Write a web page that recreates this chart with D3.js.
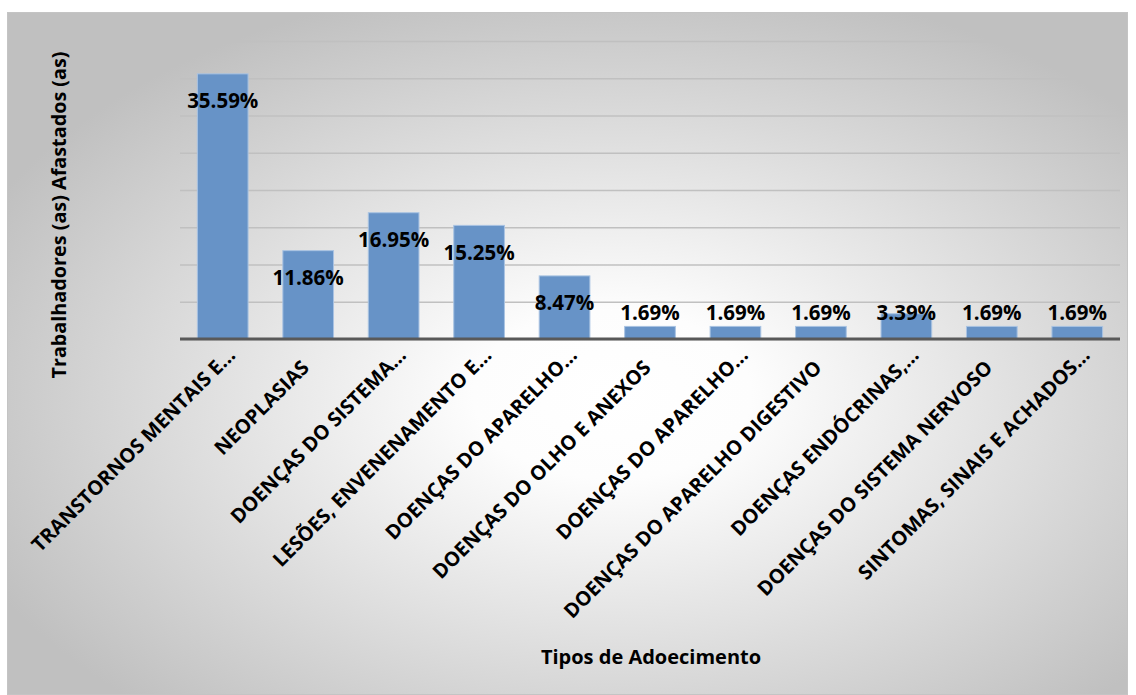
<!DOCTYPE html>
<html>
<head>
<meta charset="utf-8">
<script src="https://cdn.jsdelivr.net/npm/d3@7"></script>
<style>
  body { margin: 0; background: #fff; }
  svg text { font-family: "Open Sans", sans-serif; font-weight: bold; fill: #000; }
</style>
</head>
<body>
<div id="chart"></div>
<script>
// categories (as shown, truncated by the original chart)
const categories = [
  "TRANSTORNOS MENTAIS E...",
  "NEOPLASIAS",
  "DOENÇAS DO SISTEMA...",
  "LESÕES, ENVENENAMENTO E...",
  "DOENÇAS DO APARELHO...",
  "DOENÇAS DO OLHO E ANEXOS",
  "DOENÇAS DO APARELHO...",
  "DOENÇAS DO APARELHO DIGESTIVO",
  "DOENÇAS ENDÓCRINAS,...",
  "DOENÇAS DO SISTEMA NERVOSO",
  "SINTOMAS, SINAIS E ACHADOS..."
];
const values = [35.59, 11.86, 16.95, 15.25, 8.47, 1.69, 1.69, 1.69, 3.39, 1.69, 1.69];
const gridTicks = [0, 5, 10, 15, 20, 25, 30, 35, 40];

const W = 1136, H = 695;
const margin = { top: 41, left: 180 };
const plotW = 940, plotH = 298;

const svg = d3.select("#chart").append("svg")
  .attr("width", W).attr("height", H);

// background gradient
const defs = svg.append("defs");
const grad = defs.append("radialGradient")
  .attr("id", "bg")
  .attr("cx", 0.54).attr("cy", 0.56).attr("r", 0.62);
grad.append("stop").attr("offset", 0).attr("stop-color", "#ffffff");
grad.append("stop").attr("offset", 0.2).attr("stop-color", "#fdfdfd");
grad.append("stop").attr("offset", 1).attr("stop-color", "#c0c0c0");

svg.append("rect")
  .attr("x", 7.5).attr("y", 12.5)
  .attr("width", 1120).attr("height", 682)
  .attr("fill", "url(#bg)")
  .attr("stroke", "#c4c4c4");

const g = svg.append("g").attr("transform", `translate(${margin.left},${margin.top})`);

const x = d3.scaleBand().domain(d3.range(categories.length)).range([0, plotW]).paddingInner(0.407).paddingOuter(0.2035);
const y = d3.scaleLinear().domain([0, 40]).range([plotH, 0]);

// gridlines
g.append("g")
  .call(d3.axisLeft(y).tickValues(gridTicks).tickSize(-plotW).tickFormat(""))
  .call(s => s.select(".domain").remove())
  .selectAll("line").attr("stroke", "#c0c0c0").attr("stroke-width", 1.5);

// bars
g.selectAll("rect.bar").data(values).join("rect")
  .attr("class", "bar")
  .attr("x", (d, i) => x(i))
  .attr("y", d => y(d))
  .attr("width", x.bandwidth())
  .attr("height", d => y(0) - y(d))
  .attr("fill", "#6793c7")
  .attr("stroke", "#a9c3e2")
  .attr("stroke-width", 1);

// baseline
g.append("line")
  .attr("x1", 0).attr("x2", plotW)
  .attr("y1", y(0)).attr("y2", y(0))
  .attr("stroke", "#595959").attr("stroke-width", 3);

// value labels
g.selectAll("text.val").data(values).join("text")
  .attr("class", "val")
  .attr("x", (d, i) => x(i) + x.bandwidth() / 2)
  .attr("y", d => Math.min(y(d) + 27, y(0) - 26))
  .attr("dy", "0.35em")
  .attr("text-anchor", "middle")
  .style("font-size", "20.5px")
  .text(d => d.toFixed(2) + "%");

// category labels
const xAxis = g.append("g").attr("transform", `translate(0,${y(0)})`)
  .call(d3.axisBottom(x).tickSize(0).tickFormat(i => categories[i]));
xAxis.select(".domain").remove();
xAxis.selectAll("text")
  .attr("text-anchor", "end")
  .attr("transform", i => categories[i].endsWith("...") ? "translate(1,26) rotate(-45)" : "translate(2,30) rotate(-45)")
  .attr("x", i => categories[i].endsWith("...") ? 15 : 0)
  .attr("y", i => categories[i].endsWith("...") ? 3 : 0)
  .attr("dy", 0)
  .style("font-size", "20px");

// axis titles
svg.append("text")
  .attr("transform", "translate(59,215) rotate(-90)")
  .attr("text-anchor", "middle")
  .attr("dy", "0.35em")
  .style("font-size", "19.8px")
  .text("Trabalhadores (as) Afastados (as)");

svg.append("text")
  .attr("x", 651).attr("y", 657)
  .attr("text-anchor", "middle")
  .attr("dy", "0.35em")
  .style("font-size", "20px")
  .text("Tipos de Adoecimento");
</script>
</body>
</html>
